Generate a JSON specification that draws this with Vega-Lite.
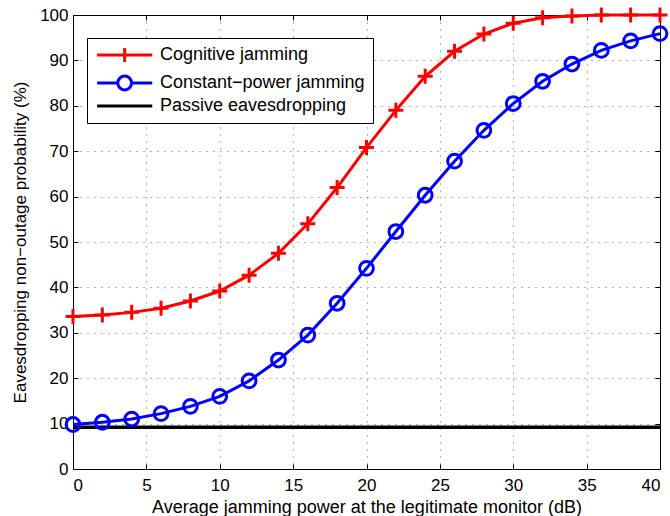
{
  "$schema": "https://vega.github.io/schema/vega-lite/v6.json",
  "autosize": {"type": "none"},
  "padding": {"left": 73, "top": 15, "right": 10, "bottom": 47},
  "width": 587,
  "height": 454,
  "config": {
    "font": "Liberation Sans",
    "view": {"stroke": "#000000", "strokeWidth": 1},
    "axis": {
      "domainColor": "#000000",
      "domainWidth": 1,
      "tickColor": "#000000",
      "tickSize": 5,
      "tickWidth": 1,
      "labelColor": "#000000",
      "labelFontSize": 17,
      "labelFont": "Liberation Sans",
      "titleFont": "Liberation Sans",
      "titleFontSize": 17,
      "titleFontWeight": "normal",
      "titleColor": "#000000",
      "gridColor": "#000000",
      "gridDash": [1, 6],
      "gridOpacity": 0.6,
      "gridWidth": 1
    }
  },
  "data": {
    "values": [
      {"x": 0, "y": 33.6, "series": "Cognitive jamming"},
      {"x": 2, "y": 33.9, "series": "Cognitive jamming"},
      {"x": 4, "y": 34.5, "series": "Cognitive jamming"},
      {"x": 6, "y": 35.4, "series": "Cognitive jamming"},
      {"x": 8, "y": 37.0, "series": "Cognitive jamming"},
      {"x": 10, "y": 39.2, "series": "Cognitive jamming"},
      {"x": 12, "y": 42.7, "series": "Cognitive jamming"},
      {"x": 14, "y": 47.5, "series": "Cognitive jamming"},
      {"x": 16, "y": 54.0, "series": "Cognitive jamming"},
      {"x": 18, "y": 62.0, "series": "Cognitive jamming"},
      {"x": 20, "y": 70.8, "series": "Cognitive jamming"},
      {"x": 22, "y": 79.0, "series": "Cognitive jamming"},
      {"x": 24, "y": 86.5, "series": "Cognitive jamming"},
      {"x": 26, "y": 92.0, "series": "Cognitive jamming"},
      {"x": 28, "y": 95.8, "series": "Cognitive jamming"},
      {"x": 30, "y": 98.2, "series": "Cognitive jamming"},
      {"x": 32, "y": 99.4, "series": "Cognitive jamming"},
      {"x": 34, "y": 99.8, "series": "Cognitive jamming"},
      {"x": 36, "y": 100, "series": "Cognitive jamming"},
      {"x": 38, "y": 100, "series": "Cognitive jamming"},
      {"x": 40, "y": 100, "series": "Cognitive jamming"},
      {"x": 0, "y": 9.8, "series": "Constant−power jamming"},
      {"x": 2, "y": 10.3, "series": "Constant−power jamming"},
      {"x": 4, "y": 11.0, "series": "Constant−power jamming"},
      {"x": 6, "y": 12.2, "series": "Constant−power jamming"},
      {"x": 8, "y": 13.8, "series": "Constant−power jamming"},
      {"x": 10, "y": 16.0, "series": "Constant−power jamming"},
      {"x": 12, "y": 19.4, "series": "Constant−power jamming"},
      {"x": 14, "y": 24.0, "series": "Constant−power jamming"},
      {"x": 16, "y": 29.5, "series": "Constant−power jamming"},
      {"x": 18, "y": 36.5, "series": "Constant−power jamming"},
      {"x": 20, "y": 44.2, "series": "Constant−power jamming"},
      {"x": 22, "y": 52.3, "series": "Constant−power jamming"},
      {"x": 24, "y": 60.3, "series": "Constant−power jamming"},
      {"x": 26, "y": 67.8, "series": "Constant−power jamming"},
      {"x": 28, "y": 74.6, "series": "Constant−power jamming"},
      {"x": 30, "y": 80.5, "series": "Constant−power jamming"},
      {"x": 32, "y": 85.4, "series": "Constant−power jamming"},
      {"x": 34, "y": 89.2, "series": "Constant−power jamming"},
      {"x": 36, "y": 92.2, "series": "Constant−power jamming"},
      {"x": 38, "y": 94.3, "series": "Constant−power jamming"},
      {"x": 40, "y": 95.9, "series": "Constant−power jamming"},
      {"x": 0, "y": 9.2, "series": "Passive eavesdropping"},
      {"x": 40, "y": 9.2, "series": "Passive eavesdropping"}
    ]
  },
  "layer": [
    {
      "transform": [{"filter": "datum.series === 'Passive eavesdropping'"}],
      "mark": {"type": "line", "strokeWidth": 3.5, "color": "#000000"},
      "encoding": {
        "x": {
          "field": "x", "type": "quantitative",
          "scale": {"domain": [0, 40], "nice": false},
          "axis": {"values": [0, 5, 10, 15, 20, 25, 30, 35, 40], "title": "Average jamming power at the legitimate monitor (dB)", "titleFontSize": 18, "labelPadding": 13, "tickSize": -5, "titlePadding": 5, "grid": true}
        },
        "y": {
          "field": "y", "type": "quantitative",
          "scale": {"domain": [0, 100], "nice": false},
          "axis": {"values": [0, 10, 20, 30, 40, 50, 60, 70, 80, 90, 100], "title": "Eavesdropping non−outage probability (%)", "labelPadding": 10, "tickSize": -5, "titlePadding": 10, "grid": true}
        }
      }
    },
    {
      "transform": [{"filter": "datum.series === 'Constant−power jamming'"}],
      "mark": {"type": "line", "strokeWidth": 3, "color": "#0000FF"},
      "encoding": {
        "x": {"field": "x", "type": "quantitative", "axis": null},
        "y": {"field": "y", "type": "quantitative", "axis": null}
      }
    },
    {
      "transform": [{"filter": "datum.series === 'Constant−power jamming'"}],
      "mark": {"type": "point", "shape": "circle", "size": 190, "strokeWidth": 3, "filled": false, "color": "#0000FF", "opacity": 1},
      "encoding": {
        "x": {"field": "x", "type": "quantitative", "axis": null},
        "y": {"field": "y", "type": "quantitative", "axis": null}
      }
    },
    {
      "transform": [{"filter": "datum.series === 'Cognitive jamming'"}],
      "mark": {"type": "line", "strokeWidth": 3, "color": "#FF0000"},
      "encoding": {
        "x": {"field": "x", "type": "quantitative", "axis": null},
        "y": {"field": "y", "type": "quantitative", "axis": null}
      }
    },
    {
      "transform": [{"filter": "datum.series === 'Cognitive jamming'"}],
      "mark": {"type": "point", "shape": "M-1,0H1M0,-1V1", "size": 225, "strokeWidth": 3, "filled": false, "color": "#FF0000", "opacity": 1},
      "encoding": {
        "x": {"field": "x", "type": "quantitative", "axis": null},
        "y": {"field": "y", "type": "quantitative", "axis": null}
      }
    },
    {
      "mark": {"type": "point", "filled": false, "opacity": 0, "strokeWidth": 3},
      "encoding": {
        "x": {"field": "x", "type": "quantitative", "axis": null},
        "y": {"field": "y", "type": "quantitative", "axis": null},
        "color": {
          "field": "series", "type": "nominal",
          "scale": {"domain": ["Cognitive jamming", "Constant−power jamming", "Passive eavesdropping"], "range": ["#FF0000", "#0000FF", "#000000"]}
        },
        "shape": {
          "field": "series", "type": "nominal",
          "scale": {"domain": ["Cognitive jamming", "Constant−power jamming", "Passive eavesdropping"], "range": ["M-1,0H7M3,-1.02V1.02", "M-1,0H2M4,0H7M4,0A1,1 0 1,1 2,0A1,1 0 1,1 4,0", "M-1,0H7"]},
          "legend": {
            "title": null,
            "orient": "none",
            "legendX": 14,
            "legendY": 23,
            "symbolSize": 190,
            "symbolStrokeWidth": 3,
            "symbolOpacity": 1,
            "symbolFillColor": "transparent",
            "labelFontSize": 18,
            "labelColor": "#000000",
            "labelFont": "Liberation Sans",
            "labelOffset": 47,
            "labelLimit": 400,
            "rowPadding": 1,
            "padding": 8,
            "strokeColor": "#000000",
            "fillColor": "#FFFFFF"
          }
        },
        "size": {"value": 190}
      }
    },
    {
      "mark": {"type": "point", "opacity": 0},
      "encoding": {
        "x": {"field": "x", "type": "quantitative", "axis": {"orient": "top", "labels": false, "title": null, "grid": false, "domain": false, "tickSize": -5, "values": [0, 5, 10, 15, 20, 25, 30, 35, 40]}},
        "y": {"field": "y", "type": "quantitative", "axis": {"orient": "right", "labels": false, "title": null, "grid": false, "domain": false, "tickSize": -5, "values": [0, 10, 20, 30, 40, 50, 60, 70, 80, 90, 100]}}
      }
    }
  ],
  "resolve": {"axis": {"x": "independent", "y": "independent"}}
}
